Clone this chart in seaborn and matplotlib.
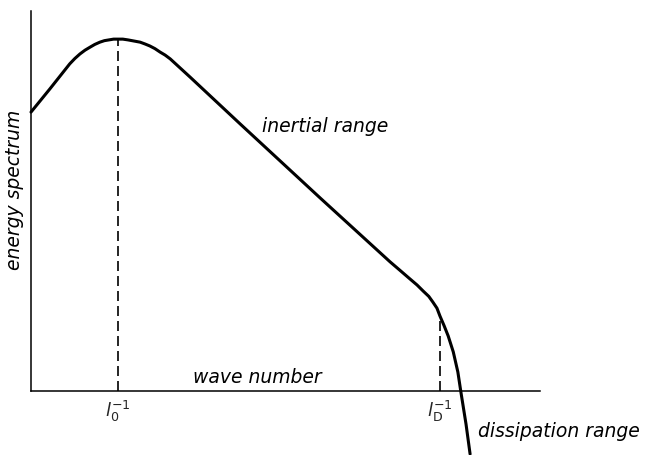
import numpy as np
import pandas as pd
import seaborn as sns
import matplotlib
matplotlib.use("Agg")
import matplotlib.pyplot as plt

# Schematic turbulent energy spectrum (arbitrary units)
wave_number = [0.00, 0.37, 0.76, 0.86, 0.96, 1.06, 1.16, 1.25, 1.35, 1.44,
               1.53, 1.62, 1.71, 1.80, 1.90, 2.02, 2.14, 2.24, 2.33, 2.43,
               2.53, 2.63, 2.73, 3.12, 4.10, 5.67, 7.04, 7.24, 7.43, 7.57,
               7.69, 7.80, 7.88, 7.96, 8.02, 8.10, 8.18, 8.28, 8.37, 8.43,
               8.53, 8.61]
energy = [7.34, 7.95, 8.61, 8.75, 8.87, 8.97, 9.05, 9.12, 9.18, 9.22,
          9.24, 9.26, 9.26, 9.26, 9.24, 9.21, 9.18, 9.13, 9.08, 9.01,
          8.92, 8.84, 8.74, 8.26, 7.03, 5.08, 3.40, 3.17, 2.95, 2.79,
          2.63, 2.49, 2.34, 2.18, 1.97, 1.72, 1.45, 1.03, 0.50, -0.03,
          -0.87, -1.66]

# Characteristic scales marked on the wave-number axis
scale_positions = [1.71, 8.02]
scale_labels = [r"$l_{\mathrm{0}}^{-1}$", r"$l_{\mathrm{D}}^{-1}$"]

region_labels = ["inertial range", "dissipation range"]
axis_labels = ["wave number", "energy spectrum"]

sns.set_style("white")
plt.rcParams["font.family"] = ["DejaVu Sans"]
plt.rcParams["mathtext.fontset"] = "dejavusans"

fig = plt.figure(figsize=(6.62, 4.56), dpi=100)
ax = fig.add_axes([0, 0, 1, 1])
ax.set_xlim(-0.608, 12.373)
ax.set_ylim(-1.684, 10.316)

df = pd.DataFrame({"k": wave_number, "E": energy})
sns.lineplot(data=df, x="k", y="E", sort=False, color="black",
             linewidth=2.2, ax=ax, solid_capstyle="round",
             solid_joinstyle="round")

# Dashed drop lines from the curve down to the axis at each scale
for xpos in scale_positions:
    if xpos < 3:
        top = max(energy[:23])
    else:
        top = np.interp(xpos, wave_number[24:], energy[24:])
    ax.plot([xpos, xpos], [0, top], color="black", linewidth=1.2,
            linestyle=(0, (6, 3)))

# Axes drawn as plain lines meeting at the origin
for side in ["top", "right"]:
    ax.spines[side].set_visible(False)
ax.spines["left"].set_position(("data", 0))
ax.spines["left"].set_bounds(0, 10.0)
ax.spines["bottom"].set_position(("data", 0))
ax.spines["bottom"].set_bounds(0, 9.98)
for side in ["left", "bottom"]:
    ax.spines[side].set_color("black")
    ax.spines[side].set_linewidth(1.1)

ax.set_yticks([])
ax.set_xticks(scale_positions)
ax.set_xticklabels(scale_labels, fontsize=13)
ax.tick_params(axis="x", length=0, pad=5)
ax.set_xlabel("")
ax.set_ylabel("")

txt = dict(fontsize=13.5, fontstyle="italic", color="black")
ax.text(4.44, 0.24, axis_labels[0], ha="center", va="baseline", **txt)
ax.text(-0.33, 5.32, axis_labels[1], ha="center", va="center",
        rotation=90, **txt)
ax.text(4.53, 6.84, region_labels[0], ha="left", va="baseline", **txt)
ax.text(8.76, -1.18, region_labels[1], ha="left", va="baseline", **txt)

fig.savefig("out.png", dpi=100)
